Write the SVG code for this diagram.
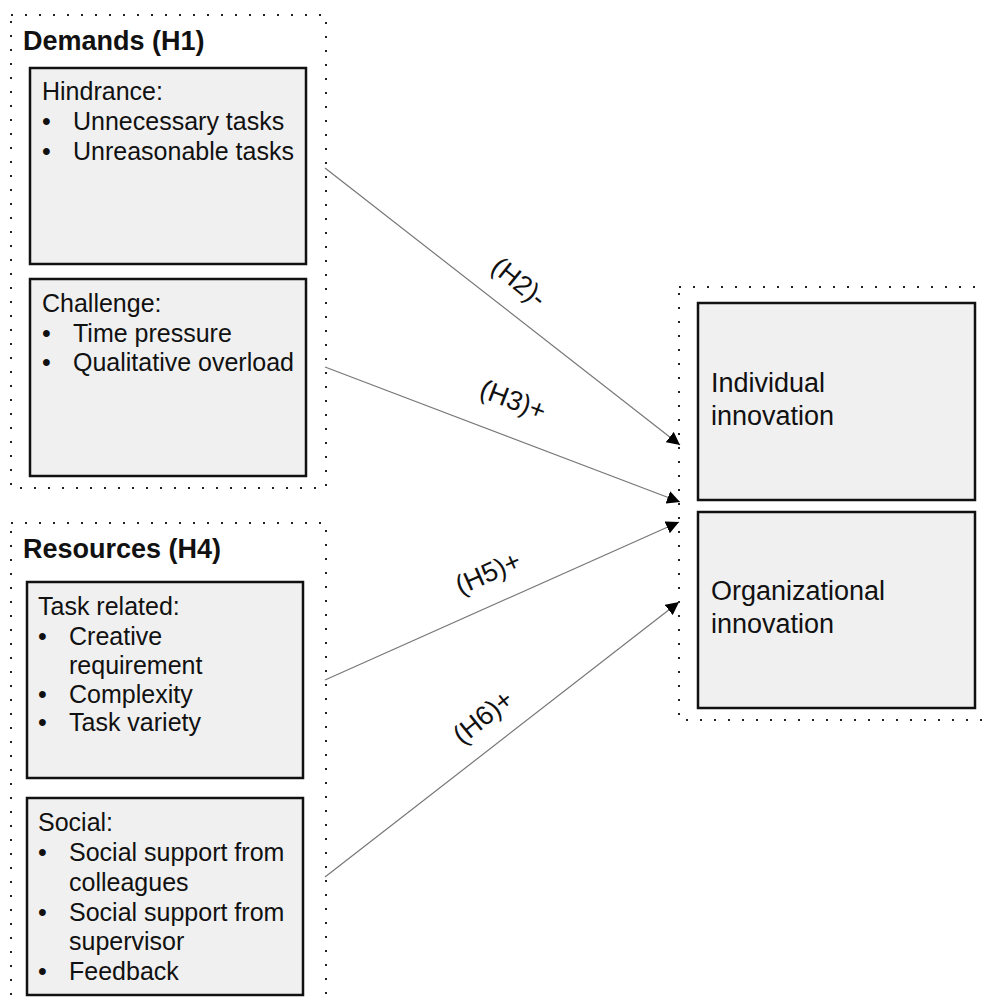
<svg xmlns="http://www.w3.org/2000/svg" width="982" height="1005" viewBox="0 0 982 1005">
  <defs>
    <style>
      text { font-family: "Liberation Sans", Arial, sans-serif; fill: #111; }
      .title { font-size: 27px; font-weight: bold; }
      .item { font-size: 25px; }
      .out { font-size: 27px; }
      .lbl { font-size: 27px; }
      .group { fill: none; stroke: #222; stroke-width: 2; stroke-dasharray: 2 12; stroke-linecap: butt; }
      .box { fill: #f0f0f0; stroke: #111; stroke-width: 2.5; }
      .edge { stroke: #777; stroke-width: 1.2; fill: none; }
    </style>
    <marker id="arrow" viewBox="0 0 10 10" refX="10" refY="5" markerWidth="13" markerHeight="13" markerUnits="userSpaceOnUse" orient="auto">
      <path d="M0,0 L10,5 L0,10 z" fill="#000"/>
    </marker>
  </defs>

  <!-- Demands group -->
  <g id="demands">
    <rect class="group" x="11" y="15" width="315" height="473"/>
    <text class="title" x="23" y="50">Demands (H1)</text>
  </g>
  <g id="hindrance">
    <rect class="box" x="30" y="68" width="276" height="196"/>
    <text class="item" x="42" y="100">Hindrance:</text>
    <text class="item" x="42" y="130">•</text>
    <text class="item" x="73" y="130">Unnecessary tasks</text>
    <text class="item" x="42" y="160">•</text>
    <text class="item" x="73" y="160">Unreasonable tasks</text>
  </g>
  <g id="challenge">
    <rect class="box" x="30" y="279" width="276" height="197"/>
    <text class="item" x="42" y="312">Challenge:</text>
    <text class="item" x="42" y="342">•</text>
    <text class="item" x="73" y="342">Time pressure</text>
    <text class="item" x="42" y="371">•</text>
    <text class="item" x="73" y="371">Qualitative overload</text>
  </g>

  <!-- Resources group -->
  <g id="resources">
    <rect class="group" x="11" y="523" width="315" height="495"/>
    <text class="title" x="23" y="558">Resources (H4)</text>
  </g>
  <g id="task-related">
    <rect class="box" x="27" y="582" width="276" height="196"/>
    <text class="item" x="38" y="615">Task related:</text>
    <text class="item" x="38" y="645">•</text>
    <text class="item" x="69" y="645">Creative</text>
    <text class="item" x="69" y="674">requirement</text>
    <text class="item" x="38" y="703">•</text>
    <text class="item" x="69" y="703">Complexity</text>
    <text class="item" x="38" y="731">•</text>
    <text class="item" x="69" y="731">Task variety</text>
  </g>
  <g id="social">
    <rect class="box" x="27" y="798" width="276" height="197"/>
    <text class="item" x="38" y="831">Social:</text>
    <text class="item" x="38" y="861">•</text>
    <text class="item" x="69" y="861">Social support from</text>
    <text class="item" x="69" y="891">colleagues</text>
    <text class="item" x="38" y="921">•</text>
    <text class="item" x="69" y="921">Social support from</text>
    <text class="item" x="69" y="950">supervisor</text>
    <text class="item" x="38" y="980">•</text>
    <text class="item" x="69" y="980">Feedback</text>
  </g>

  <!-- Outcomes group -->
  <g id="outcomes">
    <rect class="group" x="679" y="287" width="320" height="433"/>
  </g>
  <g id="individual">
    <rect class="box" x="698" y="303" width="277" height="197"/>
    <text class="out" x="711" y="392">Individual</text>
    <text class="out" x="711" y="425">innovation</text>
  </g>
  <g id="organizational">
    <rect class="box" x="698" y="512" width="277" height="196"/>
    <text class="out" x="711" y="600">Organizational</text>
    <text class="out" x="711" y="633">innovation</text>
  </g>

  <!-- Connectors -->
  <g id="connectors">
    <line class="edge" x1="325" y1="168" x2="680" y2="445" marker-end="url(#arrow)"/>
    <line class="edge" x1="325" y1="367" x2="680" y2="502" marker-end="url(#arrow)"/>
    <line class="edge" x1="325" y1="680" x2="679" y2="522" marker-end="url(#arrow)"/>
    <line class="edge" x1="325" y1="877" x2="679" y2="602" marker-end="url(#arrow)"/>
    <text class="lbl" text-anchor="middle" transform="translate(519,282) rotate(39)" dy="9">(H2)-</text>
    <text class="lbl" text-anchor="middle" transform="translate(513,400) rotate(21)" dy="9">(H3)+</text>
    <text class="lbl" text-anchor="middle" transform="translate(488,573) rotate(-24)" dy="9">(H5)+</text>
    <text class="lbl" text-anchor="middle" transform="translate(483,717) rotate(-39)" dy="9">(H6)+</text>
  </g>
</svg>
